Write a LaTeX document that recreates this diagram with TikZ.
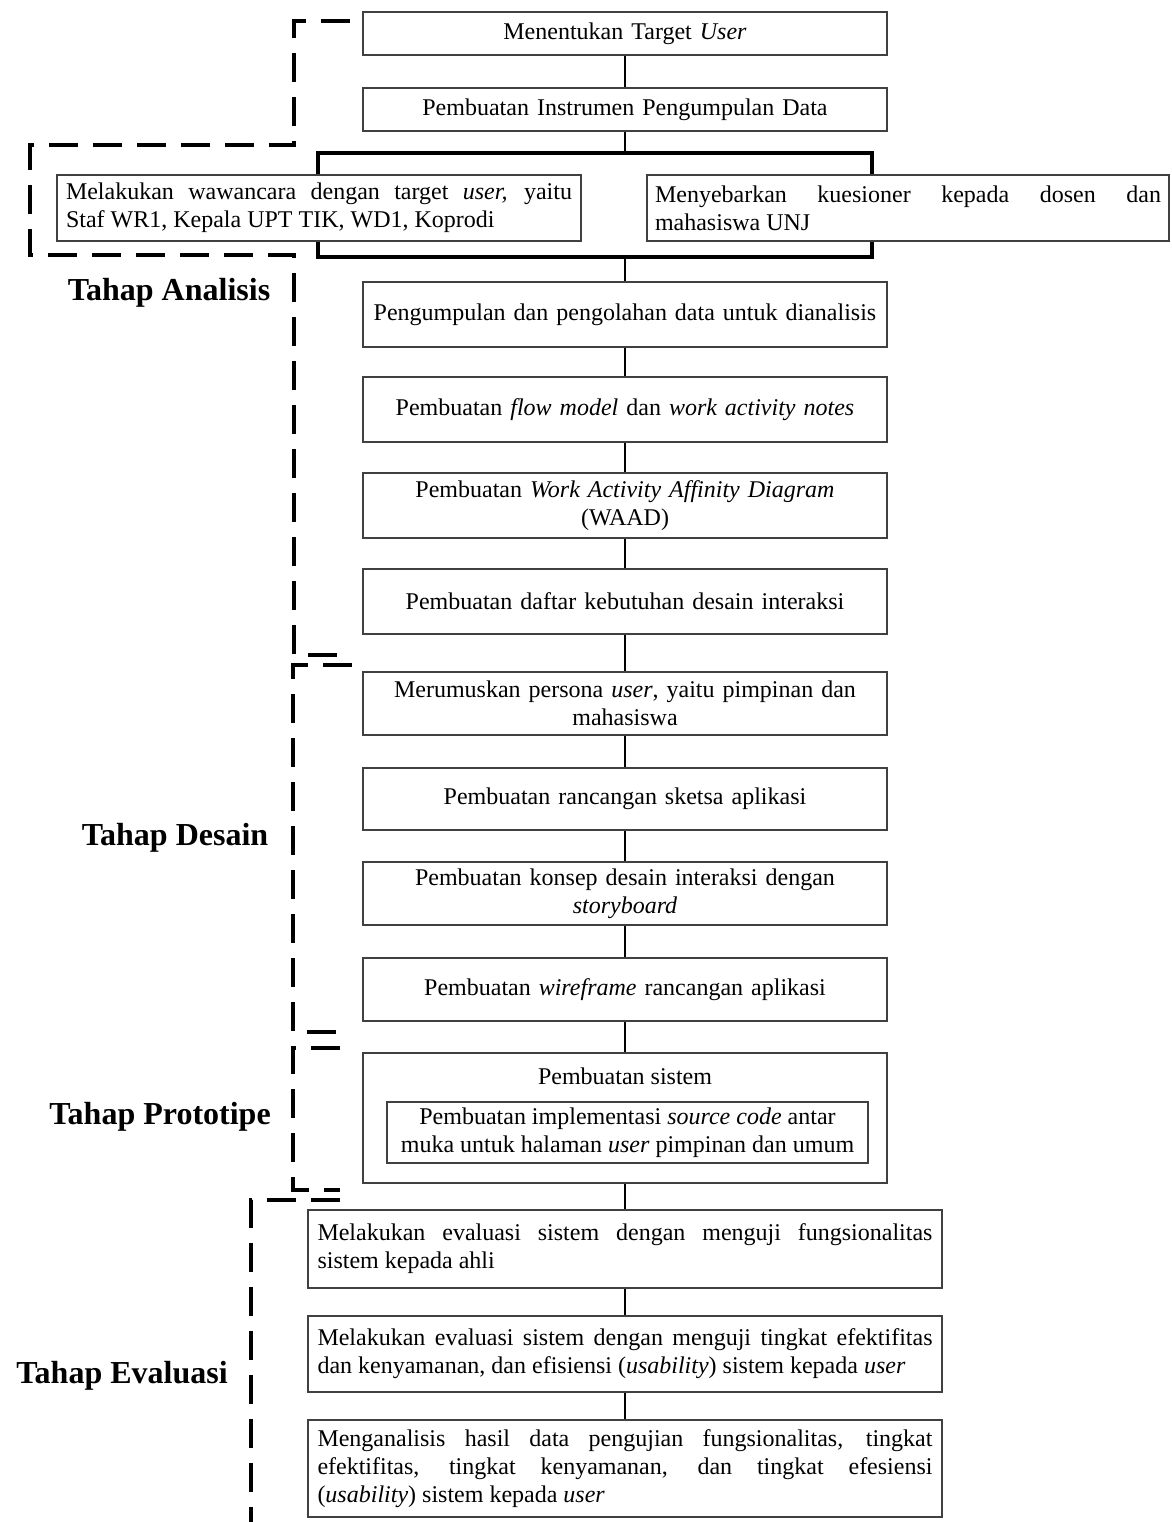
\documentclass[tikz,border=0pt]{standalone}
\usepackage{fontspec}
\setmainfont{Liberation Serif}
\usetikzlibrary{backgrounds}
\newcommand\boxfont{\fontsize{24}{28}\selectfont\tolerance=10000\hbadness=10000}
\newcommand\tagfont{\bfseries\fontsize{32}{37}\selectfont}
\begin{document}
\begin{tikzpicture}[x=1pt,y=-1pt,
  basebox/.style={draw=black!75, line width=1.8pt, fill=white, text=black,
    font=\boxfont, inner ysep=0pt},
  mainbox/.style={basebox, minimum height=#1, text width=504pt, inner xsep=10pt, align=center},
  sidebox/.style={basebox, minimum height=66pt, text width=506pt, inner xsep=#1, align=justify},
  evalbox/.style={basebox, minimum height=#1, text width=615pt, inner xsep=9.5pt, align=justify},
  conn/.style={line width=2.8pt, black},
  forkline/.style={line width=3.2pt, black},
  phase/.style={line width=3.1pt, black, dash pattern=on 29pt off 15pt},
  tag/.style={font=\tagfont, text=black, inner sep=0pt}]
\useasboundingbox (0,0) rectangle (1171,1522);

% --- analysis steps ---
\node[mainbox=43pt] (b1) at (625,33.5) {Menentukan Target \textit{User}};
\node[mainbox=43pt] (b2) at (625,109.5) {Pembuatan Instrumen Pengumpulan Data};

\coordinate (ftl) at (318,153);
\coordinate (fbr) at (872,257);
\coordinate (ftop) at (625,153);
\coordinate (fbot) at (625,257);

\node[sidebox=9pt] (wawancara) at (319,208)
  {Melakukan wawancara dengan target \textit{user,} yaitu\linebreak Staf WR1, Kepala UPT TIK, WD1, Koprodi};
\node[sidebox=8pt] (kuesioner) at (908,208)
  {Menyebarkan kuesioner kepada dosen dan\linebreak mahasiswa UNJ};

\node[mainbox=65pt] (b3) at (625,314.5) {Pengumpulan dan pengolahan data untuk dianalisis};
\node[mainbox=65pt] (b4) at (625,409.5) {Pembuatan \textit{flow model} dan \textit{work activity notes}};
\node[mainbox=65pt] (b5) at (625,505.5) {Pembuatan \textit{Work Activity Affinity Diagram}\\(WAAD)};
\node[mainbox=65pt] (b6) at (625,601.5) {Pembuatan daftar kebutuhan desain interaksi};

% --- design steps ---
\node[mainbox=63pt] (b7) at (625,703.5) {Merumuskan persona \textit{user}, yaitu pimpinan dan\\mahasiswa};
\node[mainbox=62pt] (b8) at (625,799) {Pembuatan rancangan sketsa aplikasi};
\node[mainbox=63pt] (b9) at (625,893.5) {Pembuatan konsep desain interaksi dengan\\\textit{storyboard}};
\node[mainbox=63pt] (b10) at (625,989.5) {Pembuatan \textit{wireframe} rancangan aplikasi};

% --- prototype step ---
\node[basebox, minimum width=524pt, minimum height=130pt] (b11) at (625,1118) {};
\node[font=\boxfont, inner sep=0pt] (b11title) at (625,1076) {Pembuatan sistem};
\node[basebox, minimum width=481pt, minimum height=61pt, align=center] (b11inner) at (627.5,1132.5)
  {Pembuatan implementasi \textit{source code} antar\\muka untuk halaman \textit{user} pimpinan dan umum};

% --- evaluation steps ---
\node[evalbox=78pt] (e1) at (625,1249)
  {Melakukan evaluasi sistem dengan menguji fungsionalitas\linebreak sistem kepada ahli};
\node[evalbox=76pt] (e2) at (625,1354)
  {Melakukan evaluasi sistem dengan menguji tingkat efektifitas\linebreak dan kenyamanan, dan efisiensi (\textit{usability}) sistem kepada \textit{user}};
\node[evalbox=97pt] (e3) at (625,1468.5)
  {Menganalisis hasil data pengujian fungsionalitas, tingkat\linebreak efektifitas, tingkat kenyamanan, dan tingkat efesiensi\linebreak (\textit{usability}) sistem kepada \textit{user}};

% --- phase labels ---
\node[tag] (tanalisis) at (169,293) {Tahap Analisis};
\node[tag] (tdesain) at (175,838) {Tahap Desain};
\node[tag] (tprototipe) at (160,1117) {Tahap Prototipe};
\node[tag] (tevaluasi) at (122,1376) {Tahap Evaluasi};

\begin{pgfonlayer}{background}
  \draw[conn] (b1) -- (b2);
  \draw[conn] (b2) -- (ftop);
  \draw[forkline] (ftl) rectangle (fbr);
  \draw[conn] (fbot) -- (b3);
  \draw[conn] (b3) -- (b4);
  \draw[conn] (b4) -- (b5);
  \draw[conn] (b5) -- (b6);
  \draw[conn] (b6) -- (b7);
  \draw[conn] (b7) -- (b8);
  \draw[conn] (b8) -- (b9);
  \draw[conn] (b9) -- (b10);
  \draw[conn] (b10) -- (b11);
  \draw[conn] (b11.south) -- (e1.north);
  \draw[conn] (e1) -- (e2);
  \draw[conn] (e2) -- (e3);
\end{pgfonlayer}

% --- phase brackets ---
\draw[phase] (350,21) -- (294,21) -- (294,145) -- (30,145) -- (30,255) -- (294,255) -- (294,655) -- (340,655);
\draw[phase] (352,665) -- (293,665) -- (293,1032) -- (340,1032);
\draw[phase] (340,1048) -- (293,1048) -- (293,1190) -- (340,1190);
\draw[phase] (340,1200) -- (251,1200) -- (251,1522);
\end{tikzpicture}
\end{document}
